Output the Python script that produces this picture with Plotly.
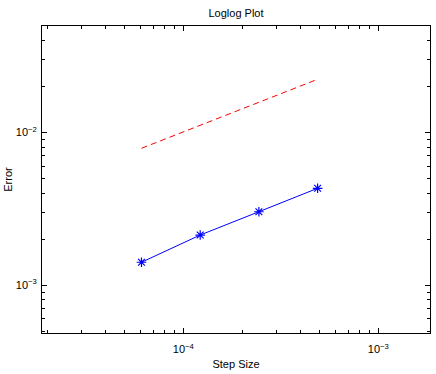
import plotly.graph_objects as go

step_size = [6.1035e-5, 1.2207e-4, 2.4414e-4, 4.8828e-4]
error_vals = [1.41e-3, 2.125e-3, 3.02e-3, 4.30e-3]
ref_vals = [7.86e-3, 1.111e-2, 1.572e-2, 2.223e-2]

x_tickvals = [1e-4, 1e-3]
x_ticktext = ["10<sup>\u22124</sup>", "10<sup>\u22123</sup>"]
y_tickvals = [1e-3, 1e-2]
y_ticktext = ["10<sup>\u22123</sup>", "10<sup>\u22122</sup>"]

font = "Liberation Sans, Arial, Helvetica, sans-serif"

fig = go.Figure()
fig.add_trace(go.Scatter(
    x=step_size, y=error_vals, mode="lines+markers",
    line=dict(color="#0000ff", width=1),
    marker=dict(symbol="asterisk-open", size=8, color="#0000ff",
                line=dict(color="#0000ff", width=1.2)),
    showlegend=False))
fig.add_trace(go.Scatter(
    x=step_size, y=ref_vals, mode="lines",
    line=dict(color="#ff0000", width=1, dash="6px,4px"),
    showlegend=False))

axis_common = dict(
    type="log", showline=True, linecolor="black", linewidth=1, mirror="ticks",
    ticks="inside", ticklen=5, tickcolor="black", tickwidth=1,
    showgrid=False, zeroline=False,
    tickfont=dict(family=font, size=11, color="black"),
    minor=dict(ticks="inside", ticklen=3, tickcolor="black", tickwidth=1,
               dtick="D1", showgrid=False),
)

fig.update_xaxes(**axis_common, range=[-4.7246, -2.735],
                 tickvals=x_tickvals, ticktext=x_ticktext, ticklabelstandoff=6,
                 title=dict(text="Step Size", font=dict(family=font, size=11, color="black"), standoff=6))
fig.update_yaxes(**axis_common, range=[-3.314, -1.304],
                 tickvals=y_tickvals, ticktext=y_ticktext, ticklabelstandoff=2,
                 title=dict(text="Error", font=dict(family=font, size=11, color="black"), standoff=0))

fig.update_layout(
    width=436, height=374,
    margin=dict(l=42, r=6, t=26, b=41),
    paper_bgcolor="white", plot_bgcolor="white",
    title=dict(text="Loglog Plot", x=0.5, xanchor="center", xref="paper",
               y=1 - 13 / 374, yanchor="middle",
               font=dict(family=font, size=11, color="black")),
)

fig.write_html("out.html")
